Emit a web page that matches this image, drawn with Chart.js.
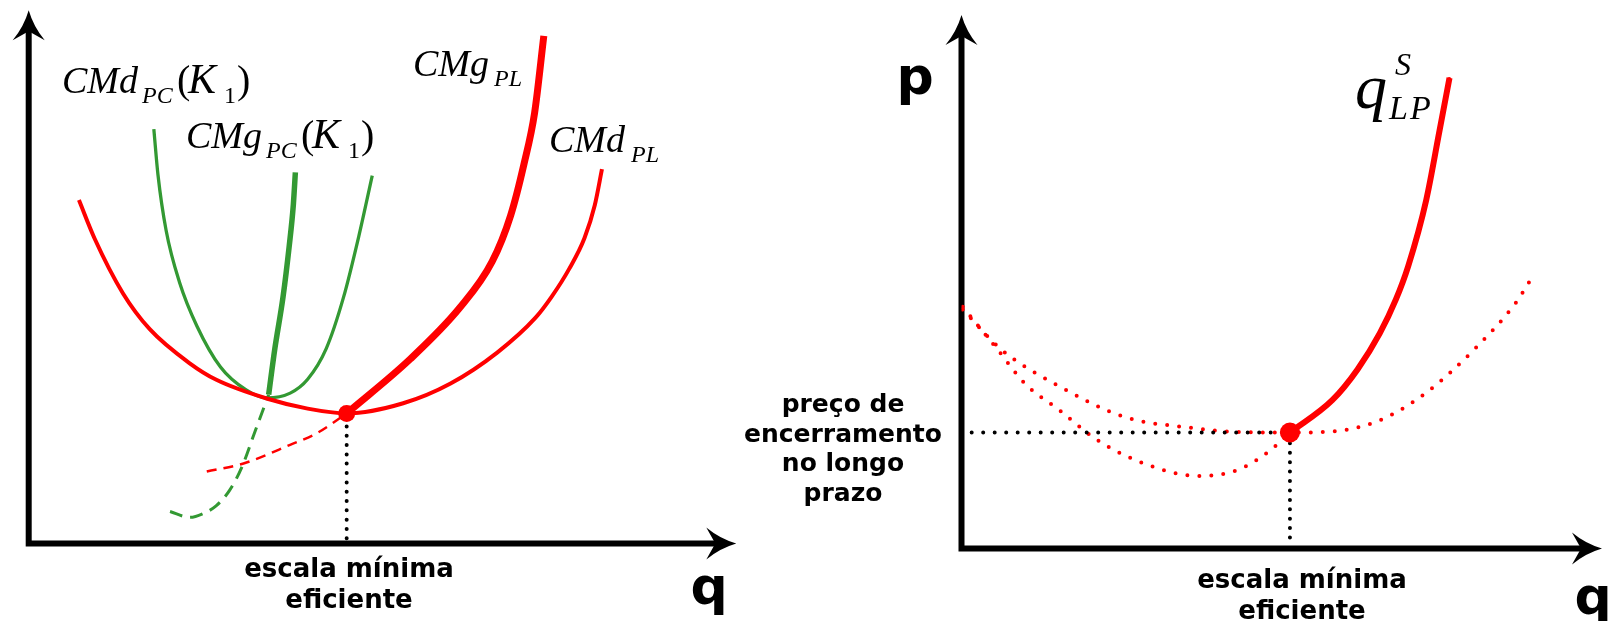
<!DOCTYPE html>
<html><head><meta charset="utf-8">
<script src="https://cdn.jsdelivr.net/npm/chart.js@4/dist/chart.umd.min.js"></script>
<style>
html,body{margin:0;padding:0;background:#fff;width:1608px;height:621px;overflow:hidden}
canvas{position:absolute;left:0;top:0}
</style></head><body>
<canvas id="left" width="1608" height="621"></canvas>
<canvas id="right" width="1608" height="621"></canvas>
<script>
// ---------------- LEFT PANEL DATA (q, custo) ----------------
const cmdPL = [[0.711,6.44],[0.929,5.73],[1.335,4.69],[1.713,4.02],[2.279,3.38],[2.656,3.07],[3.367,2.72],[3.948,2.53],[4.50,2.44],[5.30,2.63],[5.97,3.00],[6.63,3.58],[7.17,4.23],[7.402,4.63],[7.649,5.15],[7.866,5.73],[8.012,6.35],[8.113,7.02]];
const cmgPLdashed = [[2.52,1.35],[3.04,1.50],[3.70,1.85],[4.08,2.07],[4.50,2.44]];
const cmgPL = [[4.50,2.44],[5.40,3.46],[6.10,4.42],[6.56,5.29],[6.82,6.15],[7.01,7.12],[7.16,8.08],[7.29,9.52]];
const cmdPC = [[1.771,7.77],[1.829,6.92],[1.945,5.87],[2.134,4.90],[2.380,4.08],[2.714,3.31],[3.077,2.88],[3.367,2.73],[3.701,2.82],[3.948,3.08],[4.209,3.65],[4.456,4.62],[4.673,5.77],[4.862,6.90]];
const cmgPC = [[3.396,2.79],[3.483,3.65],[3.599,4.62],[3.687,5.58],[3.745,6.35],[3.774,6.96]];
const cmgPCdashed = [[2.00,0.60],[2.279,0.49],[2.467,0.56],[2.656,0.71],[2.845,1.00],[3.019,1.44],[3.208,2.12],[3.396,2.79]];
const minScaleLeft = [[4.50,2.44]];
const minScaleLeftDrop = [[4.50,0.10],[4.50,2.44]];

// ---------------- RIGHT PANEL DATA (q, p) ----------------
const cmdPLright = [[0.02,4.51],[0.63,3.75],[1.54,3.06],[2.57,2.48],[3.60,2.28],[4.35,2.20],[5.16,2.19],[5.83,2.21],[6.57,2.42],[7.30,2.94],[8.05,3.75],[8.71,4.64],[8.94,5.07]];
const cmgPLright = [[0.02,4.56],[0.57,3.75],[1.00,3.11],[1.54,2.61],[2.13,2.05],[2.86,1.61],[3.71,1.37],[4.35,1.49],[4.86,1.86],[5.16,2.19],[5.825,2.80],[6.222,3.38],[6.571,4.06],[6.825,4.70],[7.016,5.32],[7.302,6.58],[7.508,7.87],[7.667,8.88]];
const supplyLP = [[5.16,2.19],[5.825,2.80],[6.222,3.38],[6.571,4.06],[6.825,4.70],[7.016,5.32],[7.302,6.58],[7.508,7.87],[7.667,8.88]];
const minScaleRight = [[5.16,2.19]];
const shutdownPriceLine = [[0.16,2.19],[5.16,2.19]];
const minScaleRightDrop = [[5.16,0.21],[5.16,2.19]];

// ---------------- TEXT ----------------
const minScaleText = ['escala mínima','eficiente'];
const shutdownText = ['preço de','encerramento','no longo','prazo'];
const axisQ = 'q', axisP = 'p';

const RED = '#ff0000', GREEN = '#339933';
function pts(a){ return a.map(p => ({x:p[0], y:p[1]})); }
function curve(data, color, width, dash){
  const dotted = dash && dash[0] === 0;
  return {data: pts(data), borderColor: color, borderWidth: width, borderDash: dash || [],
    borderCapStyle: dotted ? 'round' : 'butt', borderJoinStyle:'round', pointRadius: 0,
    cubicInterpolationMode: 'monotone', fill: false};
}
function marker(data, r){
  return {data: pts(data), showLine: false, pointRadius: r, pointHoverRadius: r,
    pointBackgroundColor: RED, pointBorderColor: RED, pointBorderWidth: 0, borderColor: RED, backgroundColor: RED};
}
function options(pad){
  return {responsive:false, animation:false, events:[], layout:{padding:pad},
    plugins:{legend:{display:false}, tooltip:{enabled:false}, title:{display:false}},
    scales:{x:{type:'linear', min:0, max:10, display:false}, y:{type:'linear', min:0, max:10, display:false}}};
}
function arrow(ctx, tx, ty, dx, dy){
  const L = 30, W = 16, N = 9, px = -dy, py = dx;
  ctx.beginPath();
  ctx.moveTo(tx, ty);
  ctx.quadraticCurveTo(tx - dx*L*0.55 + px*W*0.3, ty - dy*L*0.55 + py*W*0.3, tx - dx*L + px*W, ty - dy*L + py*W);
  ctx.lineTo(tx - dx*(L-N), ty - dy*(L-N));
  ctx.lineTo(tx - dx*L - px*W, ty - dy*L - py*W);
  ctx.quadraticCurveTo(tx - dx*L*0.55 - px*W*0.3, ty - dy*L*0.55 - py*W*0.3, tx, ty);
  ctx.closePath(); ctx.fill();
}
function axesPlugin(topExtra, rightExtra){
  return {id:'axes', beforeDatasetsDraw(chart){
    const {ctx, chartArea:a} = chart;
    ctx.save(); ctx.strokeStyle = '#000'; ctx.fillStyle = '#000'; ctx.lineWidth = 6;
    ctx.beginPath();
    ctx.moveTo(a.left, a.bottom + 3); ctx.lineTo(a.left, a.top - topExtra + 20);
    ctx.moveTo(a.left - 3, a.bottom); ctx.lineTo(a.right + rightExtra - 20, a.bottom);
    ctx.stroke();
    arrow(ctx, a.left, a.top - topExtra, 0, -1);
    arrow(ctx, a.right + rightExtra, a.bottom, 1, 0);
    ctx.restore();
  }};
}
function serif(ctx, x, y, parts){
  parts.forEach(p => {
    ctx.font = (p.it ? 'italic ' : '') + p.s + 'px "Liberation Serif"';
    ctx.fillText(p.t, x + p.dx, y + (p.dy || 0));
  });
}
function bold(ctx, lines, cx, y0, step, size){
  ctx.font = 'bold ' + size + 'px "DejaVu Sans"'; ctx.textAlign = 'center';
  lines.forEach((t, i) => ctx.fillText(t, cx, y0 + i*step));
  ctx.textAlign = 'left';
}

const leftText = {id:'leftText', afterDraw(chart){
  const ctx = chart.ctx; ctx.save(); ctx.fillStyle = '#000'; ctx.textBaseline = 'alphabetic';
  const pcParts = (main) => [
    {t:main, s:38, it:true, dx:0}, {t:'PC', s:24, it:true, dx:80, dy:10},
    {t:'(', s:40, dx:115}, {t:'K', s:42, it:true, dx:126}, {t:'1', s:24, dx:162, dy:10}, {t:')', s:40, dx:175}];
  serif(ctx, 62, 93, pcParts('CMd'));
  serif(ctx, 186, 148, pcParts('CMg'));
  serif(ctx, 413, 76, [{t:'CMg', s:38, it:true, dx:0}, {t:'PL', s:24, it:true, dx:81, dy:10}]);
  serif(ctx, 549, 152, [{t:'CMd', s:38, it:true, dx:0}, {t:'PL', s:24, it:true, dx:82, dy:10}]);
  bold(ctx, minScaleText, 349, 577, 31, 26);
  bold(ctx, [axisQ], 709, 604, 0, 52);
  ctx.restore();
}};
const rightText = {id:'rightText', afterDraw(chart){
  const ctx = chart.ctx; ctx.save(); ctx.fillStyle = '#000'; ctx.textBaseline = 'alphabetic';
  serif(ctx, 1355, 108, [{t:'q', s:64, it:true, dx:0}, {t:'S', s:32, it:true, dx:40, dy:-33},
    {t:'L', s:34, it:true, dx:34, dy:11}, {t:'P', s:34, it:true, dx:55, dy:11}]);
  bold(ctx, shutdownText, 843, 412, 29.5, 25);
  bold(ctx, minScaleText, 1302, 588, 31, 26);
  bold(ctx, [axisP], 915, 94, 0, 52);
  bold(ctx, [axisQ], 1593, 614, 0, 52);
  ctx.restore();
}};

new Chart(document.getElementById('left'), {
  type:'line',
  data:{datasets:[
    marker(minScaleLeft, 8.5),
    curve(cmgPL, RED, 7),
    curve(cmdPL, RED, 4),
    curve(cmgPC, GREEN, 5.5),
    curve(cmdPC, GREEN, 3.3),
    curve(cmgPLdashed, RED, 2.5, [10, 7]),
    curve(cmgPCdashed, GREEN, 3, [13, 8]),
    curve(minScaleLeftDrop, '#000', 4, [0, 9.3])
  ]},
  options: options({left:28.7, right:1608-735.3, top:10.3, bottom:621-543.5}),
  plugins:[axesPlugin(0, 1), leftText]
});

new Chart(document.getElementById('right'), {
  type:'line',
  data:{datasets:[
    marker(minScaleRight, 10),
    curve(supplyLP, RED, 6),
    curve(shutdownPriceLine, '#000', 4, [0, 11.5]),
    curve(minScaleRightDrop, '#000', 4, [0, 9.4]),
    curve(cmdPLright, RED, 4, [0, 12]),
    curve(cmgPLright, RED, 4, [0, 12])
  ]},
  options: options({left:961.5, right:0, top:18.5, bottom:621-548.6}),
  plugins:[axesPlugin(3.5, 4), rightText]
});
</script>
</body></html>
